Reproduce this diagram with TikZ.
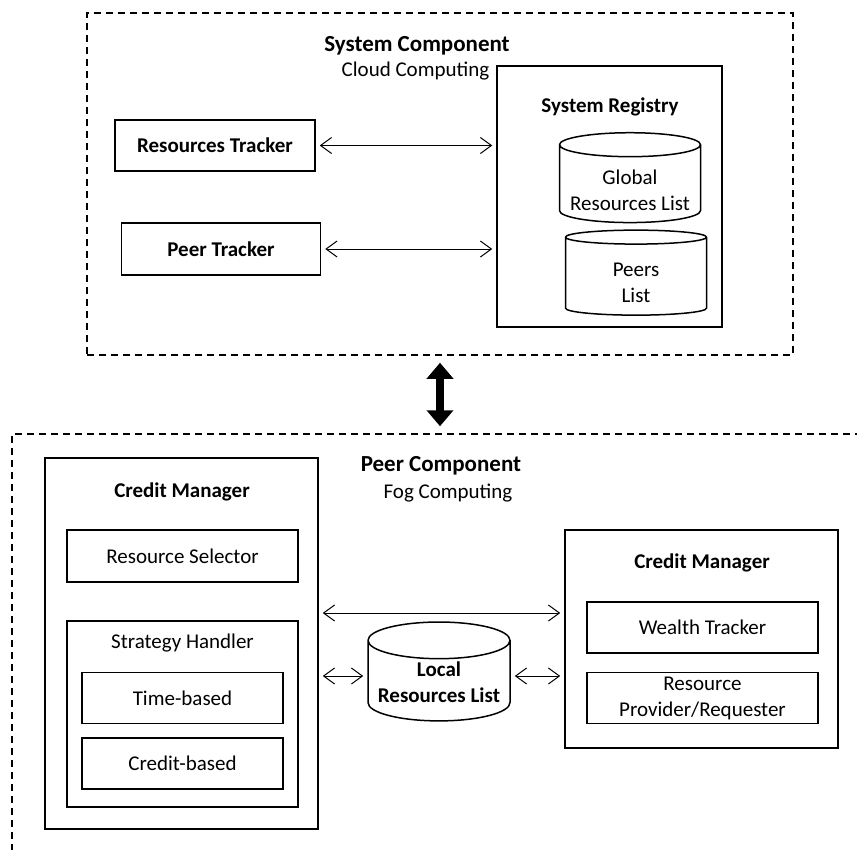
\documentclass[tikz,border=0pt]{standalone}
\usepackage{fontspec}
\setmainfont{Carlito}
\usetikzlibrary{arrows.meta,shapes.geometric,positioning}
\newcommand{\dbtop}{\rule{0pt}{27pt}}
\tikzset{
  box/.style={draw, line width=1.5pt, inner sep=0pt, align=center},
  frame/.style={draw, line width=1.5pt, dash pattern=on 7pt off 5pt},
  db/.style={cylinder, shape border rotate=90, draw, line width=1.5pt, aspect=0.3, align=center, inner sep=0pt},
  head/.style={font=\fontsize{21}{26}\selectfont\bfseries},
  bighead/.style={font=\fontsize{23}{28}\selectfont\bfseries},
  link/.style={{Straight Barb[length=11pt,width=16pt]}-{Straight Barb[length=11pt,width=16pt]}, line width=1pt, shorten <=4pt, shorten >=4pt},
  bigarrow/.style={{Triangle[length=16pt,width=26pt]}-{Triangle[length=16pt,width=26pt]}, line width=8pt}
}

\begin{document}
\begin{tikzpicture}[x=1pt, y=-1pt, font=\fontsize{21}{26}\selectfont]
\useasboundingbox (0,0) rectangle (857,849);
\node[frame, minimum width=706pt, minimum height=342pt] (sysc) at (440,184) {};
\node[bighead] (systitle) at (417,46) {System Component};
\node (syscloud) at (415.5,71) {Cloud Computing};
\node[box, minimum width=225pt, minimum height=261pt] (reg) at (609.5,196.5) {};
\node[head] (regtitle) at (610,107) {System Registry};
\node[db, aspect=0.2, minimum width=141pt, minimum height=82pt] (glob) at (630,184) {\dbtop Global\\Resources List};
\node[db, minimum width=141pt, minimum height=85pt] (peers) at (636,276.5) {\dbtop Peers\\List};
\node[box, head, minimum width=200pt, minimum height=51pt] (rtrack) at (215,145.5) {Resources Tracker};
\node[box, head, minimum width=199pt, minimum height=52pt] (ptrack) at (221,249) {Peer Tracker};
\draw[link] (rtrack.east) -- (rtrack.east -| reg.west);
\draw[link] (ptrack.east) -- (ptrack.east -| reg.west);

\node[frame, minimum width=868pt, minimum height=446pt] (peerc) at (446,657) {};
\draw[bigarrow] ([yshift=-7pt]sysc.south) -- ([yshift=7pt]sysc.south |- peerc.north);
\node[bighead] (peertitle) at (441,466) {Peer Component};
\node (peerfog) at (448,493) {Fog Computing};

\node[box, minimum width=273pt, minimum height=371pt] (lcm) at (181.5,643.5) {};
\node[head] (lcmtitle) at (182,492) {Credit Manager};
\node[box, minimum width=231pt, minimum height=52pt] (rsel) at (182.5,556) {Resource Selector};
\node[box, minimum width=231pt, minimum height=186pt] (strat) at (182.5,714) {};
\node (strattitle) at (182.5,643) {Strategy Handler};
\node[box, minimum width=201pt, minimum height=51pt] (timeb) at (182.5,698) {Time-based};
\node[box, minimum width=201pt, minimum height=51pt] (credb) at (182.5,763.5) {Credit-based};

\node[box, minimum width=273pt, minimum height=218pt] (rcm) at (701.5,639) {};
\node[head] (rcmtitle) at (702,563) {Credit Manager};
\node[box, minimum width=231pt, minimum height=51pt] (wealth) at (702.5,627.5) {Wealth Tracker};
\node[box, minimum width=231pt, minimum height=51pt] (prov) at (702.5,698) {Resource\\Provider/Requester};

\node[db, head, minimum width=142pt, minimum height=84pt] (local) at (439,681) {\rule{0pt}{17pt}Local\\Resources List};
\draw[link] (lcm.east |- 0,613) -- (rcm.west |- 0,613);
\draw[link] (lcm.east |- 0,676) -- (local.west |- 0,676);
\draw[link] (local.east |- 0,676) -- (rcm.west |- 0,676);
\end{tikzpicture}
\end{document}
